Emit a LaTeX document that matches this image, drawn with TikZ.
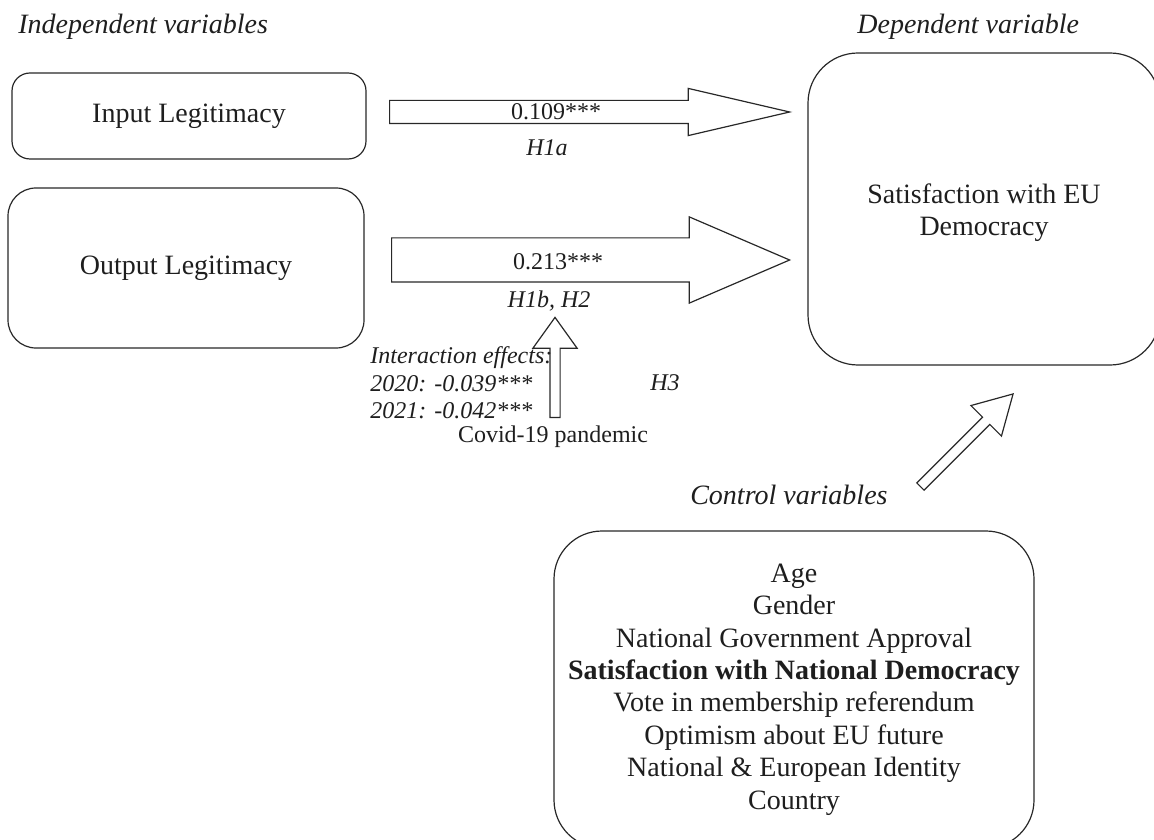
\documentclass[tikz,border=0pt]{standalone}
\usepackage{fontspec}
\setmainfont{Liberation Serif}
\usepackage{xcolor}
\usetikzlibrary{shapes.arrows}
\definecolor{darkText}{RGB}{30,30,30}
\definecolor{darkLine}{RGB}{40,40,40}
\newcommand{\bigtext}{\fontsize{14}{16.2}\selectfont}
\newcommand{\smalltext}{\fontsize{12}{13.75}\selectfont}
\tikzset{
    varbox/.style={
        rectangle,
        draw=darkLine,
        line width=0.6pt,
        align=center,
        text=darkText,
        font=\bigtext
    },
    fatarrow/.style={
        single arrow,
        draw=darkLine,
        line width=0.6pt,
        inner xsep=0pt,
        single arrow head indent=0pt,
        anchor=tail
    },
    heading/.style={text=darkText, font=\bigtext\itshape, inner sep=0pt},
    coeflabel/.style={text=darkText, font=\smalltext, inner sep=0pt},
    hyplabel/.style={text=darkText, font=\smalltext\itshape, inner sep=0pt}
}

\begin{document}
\begin{tikzpicture}[x=0.5pt,y=-0.5pt]
        \clip (0,0) rectangle (1154,839);
        \useasboundingbox (0,0) rectangle (1154,839);

        % headings
        \node[heading, anchor=west] (indep) at (18,27) {Independent variables};
        \node[heading, anchor=west] (dep) at (857,27) {Dependent variable};
        \node[heading, anchor=east] (ctrl) at (888,495) {Control variables};

        % variable boxes
        \node[varbox, rounded corners=9pt, minimum width=177pt, minimum height=43pt] (input) at (189,116) {Input Legitimacy};
        \node[varbox, rounded corners=14pt, minimum width=178pt, minimum height=80pt] (output) at (186,268) {Output Legitimacy};
        \node[varbox, rounded corners=25pt, minimum width=176pt, minimum height=156pt, text height=29.5pt] (satEU) at (984,209) {Satisfaction with EU\\Democracy};
        \node[varbox, rounded corners=24pt, minimum width=240pt, minimum height=158.5pt] (controls) at (794,689.5)
            {Age\\Gender\\National Government Approval\\\textbf{Satisfaction with National Democracy}\\Vote in membership referendum\\Optimism about EU future\\National \& European Identity\\Country};

        % text around the arrows
        \node[coeflabel] (coefIn) at (556,112) {0.109***};
        \node[hyplabel] (hypIn) at (547,148) {H1a};
        \node[coeflabel] (coefOut) at (558,262) {0.213***};
        \node[hyplabel] (hypOut) at (549,301) {H1b, H2};
        \node[hyplabel, anchor=west, align=left] (interact) at (370,383) {Interaction effects:\\2020: -0.039***\\2021: -0.042***};
        \node[hyplabel] (hypCovid) at (665,383) {H3};
        \node[coeflabel] (covid) at (553,437) {Covid-19 pandemic};

        % block arrows
        \node[fatarrow, inner ysep=5.5pt, single arrow head extend=6pt, single arrow tip angle=26.2, minimum height=200pt] (arrowIn) at (389,112) {};
        \node[fatarrow, inner ysep=10.75pt, single arrow head extend=10.5pt, single arrow tip angle=46.5, minimum height=199pt] (arrowOut) at (391,260) {};
        \node[fatarrow, rotate=90, inner ysep=2.25pt, single arrow head extend=8.5pt, single arrow tip angle=71.3, minimum height=50pt] (arrowCovid) at (555,418) {};
        \node[fatarrow, rotate=45, inner ysep=2.25pt, single arrow head extend=8.25pt, single arrow tip angle=59.2, minimum height=65.5pt] (arrowCtrl) at (920,487) {};
    \end{tikzpicture}
\end{document}
